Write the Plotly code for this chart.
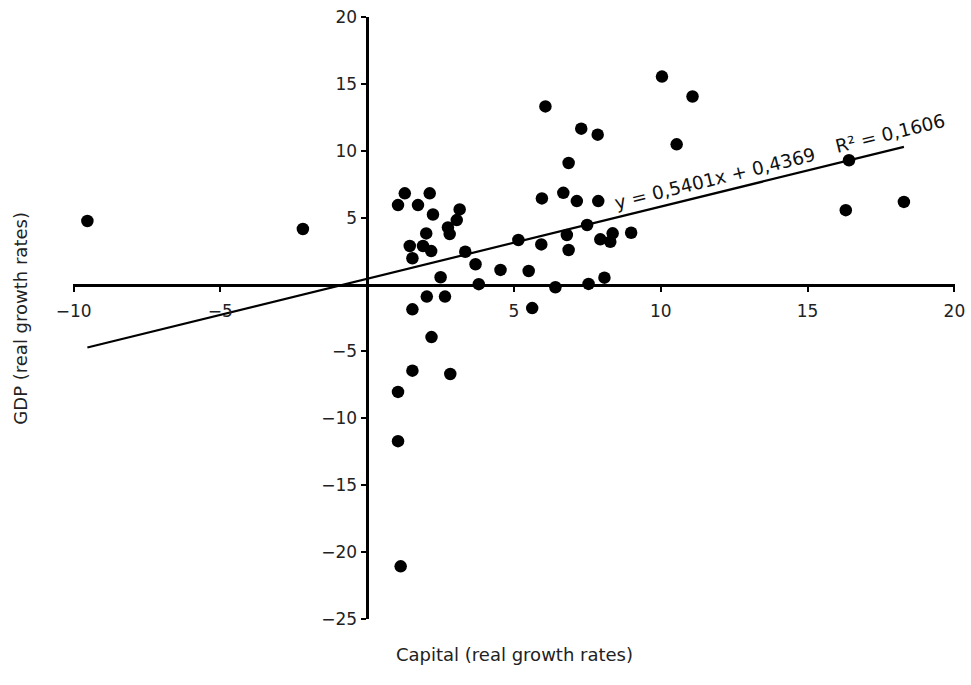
import plotly.graph_objects as go

# Data
capital_growth = [-9.53, -2.19, 1.28, 2.13, 1.05, 1.73, 2.24, 3.15, 3.05, 2.75,
                  2.81, 2.01, 1.45, 1.90, 2.18, 1.54, 3.34, 3.69, 4.54, 2.50,
                  3.80, 2.03, 2.65, 1.54, 2.19, 1.54, 2.83, 1.05, 1.05, 1.14,
                  6.07, 7.29, 7.85, 6.86, 5.95, 6.68, 7.14, 7.87, 7.49, 6.80,
                  5.15, 5.93, 6.86, 7.94, 8.36, 8.28, 8.99, 5.50, 6.41, 7.54,
                  8.08, 5.62, 10.04, 11.08, 10.54, 16.41, 16.30, 18.28]
gdp_growth = [4.76, 4.16, 6.83, 6.83, 5.95, 5.95, 5.25, 5.63, 4.83, 4.28,
              3.78, 3.83, 2.89, 2.89, 2.51, 1.97, 2.46, 1.52, 1.10, 0.55,
              0.03, -0.90, -0.90, -1.85, -3.93, -6.44, -6.69, -8.03, -11.72, -21.09,
              13.34, 11.67, 11.22, 9.10, 6.45, 6.87, 6.25, 6.25, 4.46, 3.71,
              3.34, 3.01, 2.59, 3.39, 3.84, 3.21, 3.88, 1.02, -0.20, 0.05,
              0.52, -1.76, 15.57, 14.08, 10.50, 9.31, 5.57, 6.19]

trend_slope = 0.5401
trend_intercept = 0.4369
r_squared = "0,1606"

x_tickvals = [-10, -5, 5, 10, 15, 20]
y_tickvals = [-25, -20, -15, -10, -5, 5, 10, 15, 20]
x_range = [-10.02, 20.02]
y_range = [-25.03, 20.03]

FONT = "DejaVu Sans"

x_line = [min(capital_growth), max(capital_growth)]
y_line = [trend_slope * v + trend_intercept for v in x_line]

fig = go.Figure()
fig.add_trace(go.Scatter(
    x=x_line, y=y_line, mode="lines",
    line=dict(color="black", width=2.2), hoverinfo="skip", showlegend=False))
fig.add_trace(go.Scatter(
    x=capital_growth, y=gdp_growth, mode="markers",
    marker=dict(color="black", size=12.5), showlegend=False))

fig.update_layout(
    width=971, height=685,
    margin=dict(l=73, r=16, t=17, b=66, autoexpand=False),
    plot_bgcolor="white", paper_bgcolor="white",
    font=dict(family=FONT, size=17, color="#222"),
    xaxis=dict(
        range=x_range, domain=[0, 1], anchor="free",
        position=(0 - y_range[0]) / (y_range[1] - y_range[0]),
        showgrid=False, zeroline=False,
        showline=True, linecolor="black", linewidth=2.5,
        ticks="outside", ticklen=6, tickwidth=2, tickcolor="black",
        tickvals=x_tickvals, ticklabelstandoff=4, ticklabeloverflow="allow",
        tickfont=dict(family=FONT, size=17, color="#222")),
    yaxis=dict(
        range=y_range, domain=[0, 1], anchor="free",
        position=(0 - x_range[0]) / (x_range[1] - x_range[0]),
        showgrid=False, zeroline=False,
        showline=True, linecolor="black", linewidth=2.5,
        ticks="outside", ticklen=5, tickwidth=2, tickcolor="black",
        tickvals=y_tickvals, ticklabelstandoff=1, ticklabeloverflow="allow",
        tickfont=dict(family=FONT, size=17, color="#222")),
    annotations=[
        dict(x=11.85, y=7.96, xref="x", yref="y",
             text=f"y = {str(trend_slope).replace('.', ',')}x + {str(trend_intercept).replace('.', ',')}",
             showarrow=False, textangle=-13.8,
             font=dict(family=FONT, size=18.5, color="#111")),
        dict(x=17.8, y=11.32, xref="x", yref="y",
             text=f"R² = {r_squared}", showarrow=False, textangle=-13.8,
             font=dict(family=FONT, size=18.5, color="#111")),
        dict(x=0.5, y=-0.059, xref="paper", yref="paper",
             text="Capital (real growth rates)", showarrow=False,
             xanchor="center", yanchor="middle",
             font=dict(family=FONT, size=18, color="#222")),
        dict(x=-0.0605, y=0.5, xref="paper", yref="paper",
             text="GDP (real growth rates)", showarrow=False, textangle=-90,
             xanchor="center", yanchor="middle",
             font=dict(family=FONT, size=18, color="#222")),
    ],
)

fig.write_html(
    "out.html",
    config={"displayModeBar": False},
    post_script="document.body.style.margin='0';document.body.style.overflow='hidden';",
)
